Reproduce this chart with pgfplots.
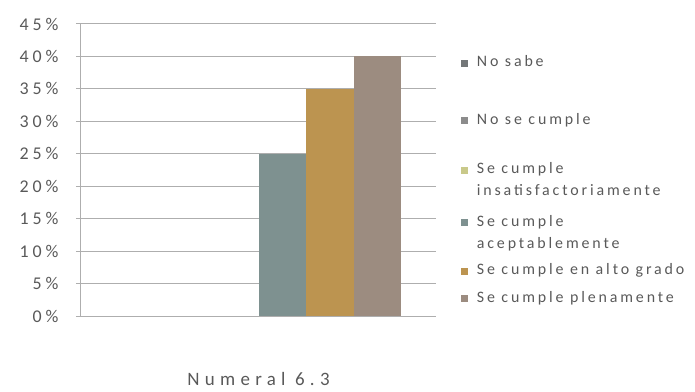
\documentclass[border=0pt]{standalone}
\usepackage{pgfplots}
\pgfplotsset{compat=1.18}
\usepackage{fontspec}
\setmainfont{Carlito}
\newfontfamily\tickfont[LetterSpace=22]{Carlito}
\newfontfamily\xfont[LetterSpace=28]{Carlito}
\newfontfamily\legfont[LetterSpace=18]{Carlito}

\definecolor{cNoSabe}{HTML}{737778}
\definecolor{cNoCumple}{HTML}{8C8C8C}
\definecolor{cInsat}{HTML}{C9C98A}
\definecolor{cAcept}{HTML}{7E9190}
\definecolor{cAlto}{HTML}{BC9450}
\definecolor{cPlena}{HTML}{9C8C80}
\definecolor{txt}{HTML}{595959}
\definecolor{gridc}{HTML}{AEAEAE}

% strut: height above baseline, fixed depth below
\newcommand{\st}[1]{\rule[-4bp]{0pt}{\dimexpr#1bp+4bp\relax}}
% two-line legend text whose baseline is its first line
\newcommand{\twolines}[3]{\vtop{\hbox{\st{#1}#2}\hbox{#3}}}

\begin{document}
\begin{tikzpicture}
\path[use as bounding box] (0bp,0bp) rectangle (695bp,392bp);
\begin{axis}[
  at={(81bp,76bp)}, anchor=south west,
  scale only axis, width=355bp, height=292bp,
  ybar=0pt, bar width=47.5bp,
  xmin=-0.5, xmax=0.5,
  ymin=0, ymax=45,
  xtick={0}, xticklabels={Numeral 6.3},
  ytick={0,5,...,45},
  yticklabel={\pgfmathprintnumber{\tick}\%},
  /pgf/number format/assume math mode=true,
  yticklabel style={font=\tickfont\fontsize{18}{20}\selectfont, text=txt, xshift=-14bp},
  xticklabel style={font=\xfont\fontsize{19}{21}\selectfont, text=txt, yshift=-48bp},
  ymajorgrids, grid style={gridc, line width=1bp},
  major x tick style={draw=none},
  ytick style={gridc, line width=1bp},
  tick align=outside, major tick length=5bp,
  axis line style={gridc, line width=1bp},
  axis x line*=bottom, axis y line*=left,
  legend image code/.code={\fill[#1] (0bp,0bp) rectangle (7bp,7bp);},
  legend style={at={(1.070,0.894)}, anchor=north west, draw=none, fill=none,
    inner sep=0pt, outer sep=0pt,
    font=\legfont\fontsize{16}{22}\selectfont, text=txt,
    cells={anchor=base west},
    nodes={inner sep=0pt}, row sep=0pt, column sep=9bp},
]
\addplot[fill=cNoSabe, draw=none] coordinates {(0,0)};
\addlegendentry{\st{12}No sabe}
\addplot[fill=cNoCumple, draw=none] coordinates {(0,0)};
\addlegendentry{\st{56}No se cumple}
\addplot[fill=cInsat, draw=none] coordinates {(0,0)};
\addlegendentry{\twolines{48}{Se cumple}{insatisfactoriamente}}
\addplot[fill=cAcept, draw=none] coordinates {(0,25)};
\addlegendentry{\twolines{51}{Se cumple}{aceptablemente}}
\addplot[fill=cAlto, draw=none] coordinates {(0,35)};
\addlegendentry{\st{47}Se cumple en alto grado}
\addplot[fill=cPlena, draw=none] coordinates {(0,40)};
\addlegendentry{\st{26}Se cumple plenamente}
\end{axis}
\end{tikzpicture}
\end{document}
